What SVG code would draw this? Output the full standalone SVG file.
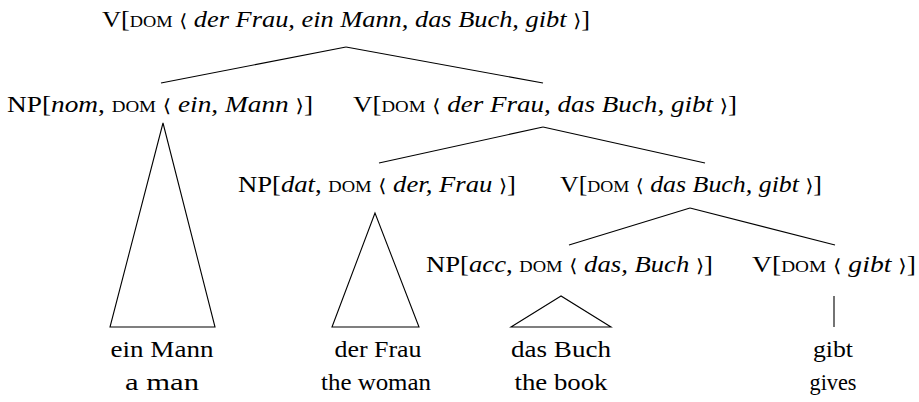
<svg xmlns="http://www.w3.org/2000/svg" width="919" height="402" viewBox="0 0 919 402">
<style>
text{font-family:'Liberation Serif',serif;font-size:23px;fill:#000}
.i{font-style:italic}
.sc{font-variant:small-caps}
.br{font-family:'DejaVu Serif',serif;font-size:18px}
.leaf{text-anchor:middle;font-size:24px}
line,polygon{stroke:#000;stroke-width:1.1;fill:none}
</style>
<rect width="919" height="402" fill="#fff"/>
<g id="connectors">
<line x1="346" y1="47" x2="161" y2="83"/>
<line x1="346" y1="47" x2="543" y2="83"/>
<line x1="543" y1="127" x2="379" y2="163"/>
<line x1="543" y1="127" x2="705" y2="163"/>
<line x1="690" y1="208" x2="569" y2="245"/>
<line x1="690" y1="208" x2="835" y2="245"/>
<polygon points="163,123 110,327 215,327"/>
<polygon points="375,213 332,327 419,327"/>
<polygon points="561,296 511,327 611,327"/>
<line x1="834" y1="296" x2="834" y2="327"/>
</g>
<g id="root"><text x="102" y="27" textLength="488" lengthAdjust="spacingAndGlyphs">V[<tspan class="sc">dom</tspan> <tspan class="br">⟨</tspan> <tspan class="i">der Frau, ein Mann, das Buch, gibt</tspan> <tspan class="br">⟩</tspan>]</text></g>
<g id="np-nom"><text x="7" y="112" textLength="306" lengthAdjust="spacingAndGlyphs">NP[<tspan class="i">nom</tspan>, <tspan class="sc">dom</tspan> <tspan class="br">⟨</tspan> <tspan class="i">ein, Mann</tspan> <tspan class="br">⟩</tspan>]</text></g>
<g id="v2"><text x="353" y="112" textLength="384" lengthAdjust="spacingAndGlyphs">V[<tspan class="sc">dom</tspan> <tspan class="br">⟨</tspan> <tspan class="i">der Frau, das Buch, gibt</tspan> <tspan class="br">⟩</tspan>]</text></g>
<g id="np-dat"><text x="238" y="192" textLength="278" lengthAdjust="spacingAndGlyphs">NP[<tspan class="i">dat</tspan>, <tspan class="sc">dom</tspan> <tspan class="br">⟨</tspan> <tspan class="i">der, Frau</tspan> <tspan class="br">⟩</tspan>]</text></g>
<g id="v3"><text x="560" y="192" textLength="262" lengthAdjust="spacingAndGlyphs">V[<tspan class="sc">dom</tspan> <tspan class="br">⟨</tspan> <tspan class="i">das Buch, gibt</tspan> <tspan class="br">⟩</tspan>]</text></g>
<g id="np-acc"><text x="426" y="272" textLength="287" lengthAdjust="spacingAndGlyphs">NP[<tspan class="i">acc</tspan>, <tspan class="sc">dom</tspan> <tspan class="br">⟨</tspan> <tspan class="i">das, Buch</tspan> <tspan class="br">⟩</tspan>]</text></g>
<g id="v4"><text x="752" y="272" textLength="164" lengthAdjust="spacingAndGlyphs">V[<tspan class="sc">dom</tspan> <tspan class="br">⟨</tspan> <tspan class="i">gibt</tspan> <tspan class="br">⟩</tspan>]</text></g>
<g id="leaf-mann"><text class="leaf" x="162" y="357" textLength="103" lengthAdjust="spacingAndGlyphs">ein Mann</text><text class="leaf" x="162" y="390" textLength="74" lengthAdjust="spacingAndGlyphs">a man</text></g>
<g id="leaf-frau"><text class="leaf" x="378" y="357" textLength="87" lengthAdjust="spacingAndGlyphs">der Frau</text><text class="leaf" x="376" y="390" textLength="110" lengthAdjust="spacingAndGlyphs">the woman</text></g>
<g id="leaf-buch"><text class="leaf" x="561" y="357" textLength="100" lengthAdjust="spacingAndGlyphs">das Buch</text><text class="leaf" x="561" y="390" textLength="93" lengthAdjust="spacingAndGlyphs">the book</text></g>
<g id="leaf-gibt"><text class="leaf" x="833" y="357" textLength="40" lengthAdjust="spacingAndGlyphs">gibt</text><text class="leaf" x="833" y="390" textLength="47" lengthAdjust="spacingAndGlyphs">gives</text></g>
</svg>
